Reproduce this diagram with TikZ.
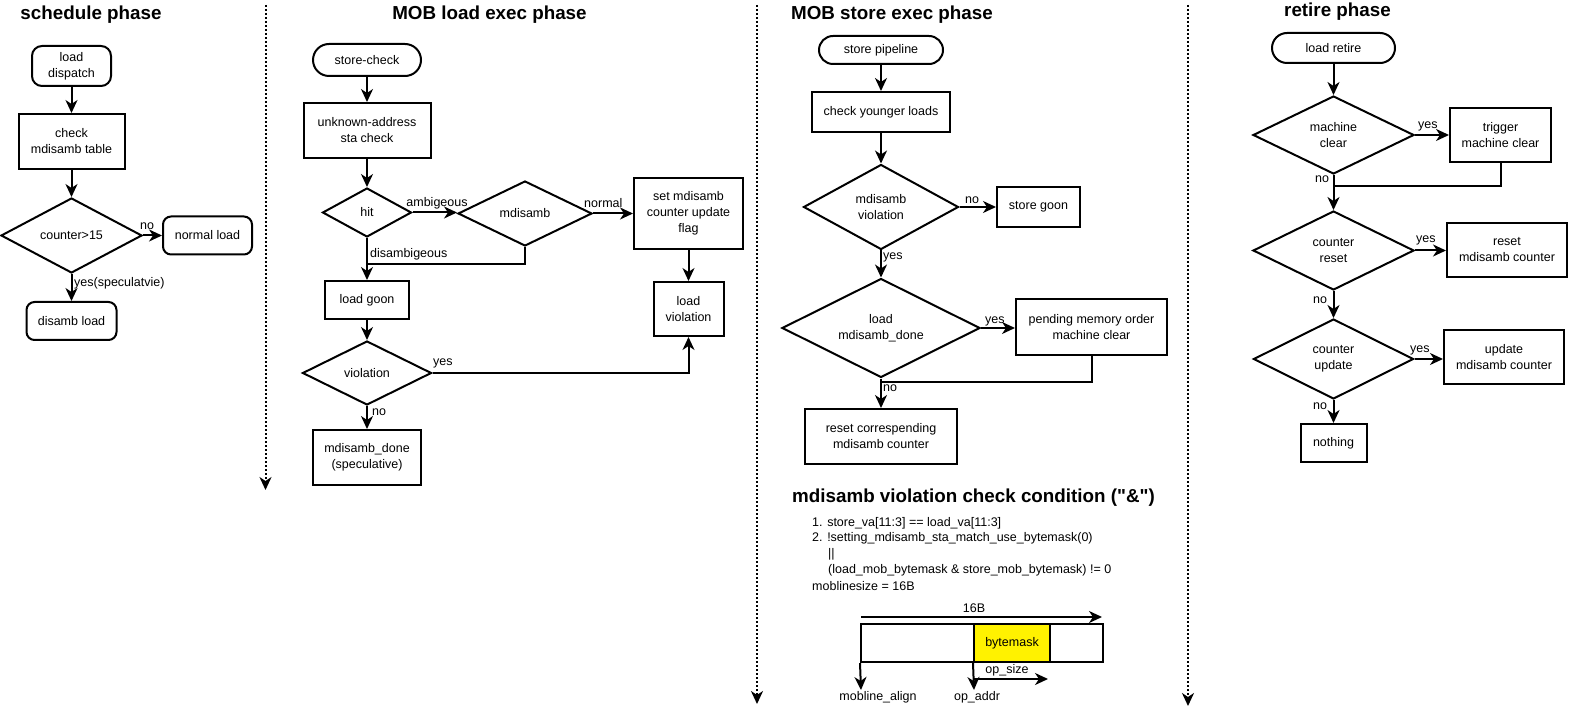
\documentclass[tikz,border=0pt]{standalone}
\usepackage{fontspec}
\setmainfont{Liberation Sans}
\newfontfamily\qfont{Liberation Sans}[Ligatures=ResetAll]
\usetikzlibrary{shapes.geometric,arrows.meta}
\tikzset{
  base/.style={draw, line width=2pt, font=\fontsize{12.5}{16}\selectfont, align=center, inner sep=0pt},
  box/.style={base, rectangle},
  term/.style={base, rectangle, rounded corners=#1},
  dec/.style={base, diamond},
  tip/.style={-{Stealth[length=13pt,width=12pt,inset=4pt]}},
  arr/.style={line width=2pt, tip},
  ln/.style={line width=2pt},
  sep/.style={line width=2pt, dash pattern=on 2pt off 2pt, tip},
  lbl/.style={font=\fontsize{12.5}{16}\selectfont, inner sep=0pt},
  ttl/.style={font=\fontsize{18.8}{22}\selectfont\bfseries, inner sep=0pt},
}
\begin{document}
\begin{tikzpicture}[x=1pt,y=-1pt]
\fill[white] (0,0) rectangle (1569,711);
\useasboundingbox (0,0) rectangle (1569,711);

% titles
\node[ttl] (t1) at (91,15) {schedule phase};
\node[ttl] (t2) at (489.5,15) {MOB load exec phase};
\node[ttl] (t3) at (892,15) {MOB store exec phase};
\node[ttl] (t4) at (1337.5,12) {retire phase};
\node[ttl] (t5) at (973.5,498) {mdisamb violation check condition ({\qfont"}\&{\qfont"})};

% separators
\coordinate (d1a) at (265.5,5); \coordinate (d1b) at (265.5,490);
\coordinate (d2a) at (757,5);   \coordinate (d2b) at (757,704);
\coordinate (d3a) at (1188,5);  \coordinate (d3b) at (1188,706);
\draw[sep] (d1a) -- (d1b);
\draw[sep] (d2a) -- (d2b);
\draw[sep] (d3a) -- (d3b);

% ---------- schedule phase ----------
\node[term=10pt, minimum width=79pt, minimum height=40pt] (ld) at (71.5,66) {load\\dispatch};
\node[box, minimum width=106pt, minimum height=55pt] (chk) at (71.5,141.5) {check\\mdisamb table};
\node[dec, minimum width=141pt, minimum height=75pt, aspect=1.88] (cnt) at (71.5,235.5) {counter>15};
\node[term=8pt, minimum width=89pt, minimum height=38pt] (nrm) at (207.5,235.5) {normal load};
\node[term=8pt, minimum width=90pt, minimum height=38pt] (dis) at (71.5,321) {disamb load};
\draw[arr] (ld) -- (chk);
\draw[arr] (chk) -- (cnt);
\draw[arr] (cnt.east) -- (nrm.west);
\draw[arr] (cnt.south) -- (dis.north);
\node[lbl] (l1) at (147,226) {no};
\node[lbl, anchor=west] (l2) at (74,283) {yes(speculatvie)};

% ---------- MOB load exec phase ----------
\node[term=16pt, minimum width=108pt, minimum height=32pt] (sc) at (367,60) {store-check};
\node[box, minimum width=127pt, minimum height=55pt] (ua) at (367,130.5) {unknown-address\\sta check};
\node[dec, minimum width=89pt, minimum height=49pt, aspect=1.8] (hit) at (367,212.5) {hit};
\node[dec, minimum width=134pt, minimum height=65pt, aspect=2] (mds) at (525,213.5) {mdisamb};
\node[box, minimum width=109pt, minimum height=71pt] (set) at (688.5,213.5) {set mdisamb\\counter update\\flag};
\node[box, minimum width=84pt, minimum height=38pt] (lg) at (367,300) {load goon};
\node[box, minimum width=70pt, minimum height=54pt] (lv) at (688.5,309) {load\\violation};
\node[dec, minimum width=129pt, minimum height=64pt, aspect=2] (vio) at (367,373) {violation};
\node[box, minimum width=108pt, minimum height=55pt] (md) at (367,457.5) {mdisamb\_done\\(speculative)};
\coordinate (j1) at (367,264);
\draw[arr] (sc) -- (ua);
\draw[arr] (ua) -- (hit.north);
\draw[arr] (hit.east) -- (hit.east -| mds.west);
\draw[arr] (mds.east) -- (set.west);
\draw[arr] (hit.south) -- (lg.north);
\draw[ln] (mds.south) |- (j1);
\draw[arr] (set) -- (lv);
\draw[arr] (lg) -- (vio.north);
\draw[arr] (vio.east) -| (lv.south);
\draw[arr] (vio.south) -- (md.north);
\node[lbl] (l3) at (437,203) {ambigeous};
\node[lbl, anchor=west] (l4) at (584,203) {normal};
\node[lbl, anchor=west] (l5) at (370,254) {disambigeous};
\node[lbl, anchor=west] (l6) at (433,363) {yes};
\node[lbl, anchor=west] (l7) at (372,412) {no};

% ---------- MOB store exec phase ----------
\node[term=14pt, minimum width=124pt, minimum height=28pt] (sp) at (881,50) {store pipeline};
\node[box, minimum width=138pt, minimum height=40pt] (cy) at (881,112) {check younger loads};
\node[dec, minimum width=155pt, minimum height=85pt, aspect=1.8] (mv) at (881,207) {mdisamb\\violation};
\node[box, minimum width=83pt, minimum height=40pt] (sg) at (1038.5,207) {store goon};
\node[dec, minimum width=198pt, minimum height=99pt, aspect=2] (lmd) at (881,328) {load\\mdisamb\_done};
\node[box, minimum width=151pt, minimum height=55pt] (pmc) at (1091.5,327) {pending memory order\\machine clear};
\node[box, minimum width=152pt, minimum height=55pt] (rc) at (881,436.5) {reset correspending\\mdisamb counter};
\coordinate (j2) at (881,382);
\draw[arr] (sp) -- (cy);
\draw[arr] (cy) -- (mv.north);
\draw[arr] (mv.east) -- (sg.west);
\draw[arr] (mv.south) -- (lmd.north);
\draw[arr] (lmd.east) -- (lmd.east -| pmc.west);
\draw[arr] (lmd.south) -- (rc.north);
\draw[ln] (pmc.south) |- (j2);
\node[lbl, anchor=west] (l8) at (965,200) {no};
\node[lbl, anchor=west] (l9) at (883,257) {yes};
\node[lbl, anchor=west] (l10) at (985,321) {yes};
\node[lbl, anchor=west] (l11) at (883,388) {no};

% ---------- condition ----------
\node[lbl, anchor=west] (c1) at (812,523) {1. store\_va[11:3] == load\_va[11:3]};
\node[lbl, anchor=west] (c2) at (812,538.5) {2. !setting\_mdisamb\_sta\_match\_use\_bytemask(0)};
\node[lbl, anchor=west] (c3) at (828,554) {||};
\node[lbl, anchor=west] (c4) at (828,570) {(load\_mob\_bytemask \& store\_mob\_bytemask) != 0};
\node[lbl, anchor=west] (c5) at (812,586) {moblinesize = 16B};
\node[box, minimum width=242pt, minimum height=38pt] (mline) at (982,643) {};
\node[box, fill=yellow, minimum width=76pt, minimum height=38pt] (bm) at (1012,643) {bytemask};
\coordinate (a16s) at (861,617); \coordinate (a16e) at (1102,617);
\draw[arr] (a16s) -- (a16e);
\node[lbl] (l16) at (974,608) {16B};
\coordinate (mae) at (861,690);
\draw[arr] (mline.south west) -- (mae);
\coordinate (oae) at (974,690);
\draw[arr] (bm.south west) -- (oae);
\coordinate (oss) at (974,679); \coordinate (ose) at (1048,679);
\draw[arr] (oss) -- (ose);
\node[lbl] (lma) at (878,697) {mobline\_align};
\node[lbl] (loa) at (977,697) {op\_addr};
\node[lbl] (los) at (1007,670) {op\_size};

% ---------- retire phase ----------
\node[term=15pt, minimum width=123pt, minimum height=30pt] (lr) at (1333.5,48) {load retire};
\node[dec, minimum width=161pt, minimum height=78pt, aspect=2] (mc) at (1333.5,135) {machine\\clear};
\node[box, minimum width=101pt, minimum height=54pt] (tmc) at (1500.5,135) {trigger\\machine clear};
\node[dec, minimum width=161pt, minimum height=79pt, aspect=2] (cr) at (1333.5,250.5) {counter\\reset};
\node[box, minimum width=120pt, minimum height=54pt] (rmc) at (1507,250) {reset\\mdisamb counter};
\node[dec, minimum width=160pt, minimum height=80pt, aspect=2] (cu) at (1333.5,359) {counter\\update};
\node[box, minimum width=120pt, minimum height=54pt] (umc) at (1504,357) {update\\mdisamb counter};
\node[box, minimum width=66pt, minimum height=38pt] (nth) at (1333.5,443) {nothing};
\coordinate (j3) at (1333.5,186);
\draw[arr] (lr) -- (mc.north);
\draw[arr] (mc.east) -- (tmc.west);
\draw[arr] (mc.south) -- (cr.north);
\draw[ln] (tmc.south) |- (j3);
\draw[arr] (cr.east) -- (cr.east -| rmc.west);
\draw[arr] (cr.south) -- (cu.north);
\draw[arr] (cu.east) -- (cu.east -| umc.west);
\draw[arr] (cu.south) -- (nth.north);
\node[lbl, anchor=west] (l12) at (1418,126) {yes};
\node[lbl, anchor=west] (l13) at (1315,179) {no};
\node[lbl, anchor=west] (l14) at (1416,240) {yes};
\node[lbl, anchor=west] (l15) at (1313,300) {no};
\node[lbl, anchor=west] (l17) at (1410,350) {yes};
\node[lbl, anchor=west] (l18) at (1313,406) {no};
\end{tikzpicture}
\end{document}
